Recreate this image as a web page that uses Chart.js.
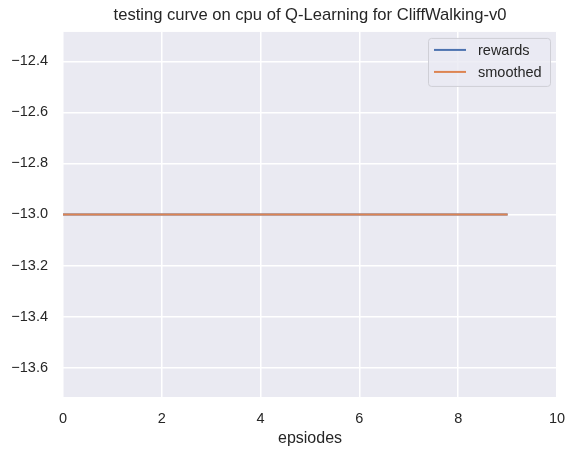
<!DOCTYPE html>
<html>
<head>
<meta charset="utf-8">
<script src="https://cdn.jsdelivr.net/npm/chart.js@4"></script>
<style>
  html, body { margin: 0; padding: 0; background: #fff; }
  #box { width: 576px; height: 457px; }
</style>
</head>
<body>
<div id="box"><canvas id="myChart"></canvas></div>
<script>
// data
var episodes = [0, 1, 2, 3, 4, 5, 6, 7, 8, 9];
var rewards = [-13, -13, -13, -13, -13, -13, -13, -13, -13, -13];
var smoothed = [-13, -13, -13, -13, -13, -13, -13, -13, -13, -13];
var yTicks = [-13.6, -13.4, -13.2, -13.0, -12.8, -12.6, -12.4];
var xTicks = [0, 2, 4, 6, 8, 10];

var font = "'Liberation Sans', Arial, sans-serif";
var textColor = '#262626';

function toPoints(xs, ys) {
    var pts = [];
    for (var i = 0; i < xs.length; i++) {
        pts.push({ x: xs[i], y: ys[i] });
    }
    return pts;
}

// seaborn-ish grey background behind the plot
var plotBackground = {
    id: 'plotBackground',
    beforeDraw: function (chart) {
        var a = chart.chartArea;
        var ctx = chart.ctx;
        ctx.save();
        ctx.fillStyle = '#EAEAF2';
        ctx.fillRect(a.left, a.top, a.right - a.left, a.bottom - a.top);
        ctx.restore();
    }
};

// legend box in the upper right corner, matplotlib style
var cornerLegend = {
    id: 'cornerLegend',
    afterDraw: function (chart) {
        var a = chart.chartArea;
        var ctx = chart.ctx;
        var sets = chart.data.datasets;
        var w = 122, h = 48;
        var x = a.right - 7 - w, y = a.top + 6;
        ctx.save();
        ctx.fillStyle = 'rgba(234,234,242,0.8)';
        ctx.strokeStyle = '#cfcfd6';
        ctx.lineWidth = 1;
        ctx.beginPath();
        ctx.roundRect(x + 0.5, y + 0.5, w, h, 3);
        ctx.fill();
        ctx.stroke();
        ctx.font = '14.5px ' + font;
        ctx.textBaseline = 'middle';
        for (var i = 0; i < sets.length; i++) {
            var ly = y + 12 + i * 22;
            ctx.strokeStyle = sets[i].borderColor;
            ctx.lineWidth = 2;
            ctx.beginPath();
            ctx.moveTo(x + 6, ly);
            ctx.lineTo(x + 38, ly);
            ctx.stroke();
            ctx.fillStyle = textColor;
            ctx.fillText(sets[i].label, x + 50, ly + 1);
        }
        ctx.restore();
    }
};

var ctx = document.getElementById('myChart').getContext('2d');
var myLineChart = new Chart(ctx, {
    type: 'line',
    data: {
        datasets: [{
            label: 'rewards',
            borderColor: '#4C72B0',
            backgroundColor: '#4C72B0',
            borderWidth: 2,
            pointRadius: 0,
            order: 1,
            data: toPoints(episodes, rewards)
        }, {
            label: 'smoothed',
            borderColor: '#DD8452',
            backgroundColor: '#DD8452',
            borderWidth: 2,
            pointRadius: 0,
            order: 0,
            data: toPoints(episodes, smoothed)
        }]
    },
    options: {
        responsive: true,
        maintainAspectRatio: false,
        animation: false,
        layout: {
            padding: { left: 0, right: 19, top: 0, bottom: 0 }
        },
        plugins: {
            legend: { display: false },
            tooltip: { enabled: false },
            title: {
                display: true,
                fullSize: false,
                text: 'testing curve on cpu of Q-Learning for CliffWalking-v0',
                color: textColor,
                font: { family: font, size: 16.6, weight: 'normal' },
                padding: { top: 5, bottom: 7 }
            }
        },
        scales: {
            x: {
                type: 'linear',
                min: 0,
                max: 10,
                afterBuildTicks: function (scale) {
                    scale.ticks = xTicks.map(function (v) { return { value: v }; });
                },
                afterFit: function (scale) {
                    scale.height = 60;
                    scale.paddingLeft = 0;
                    scale.paddingRight = 0;
                },
                border: { display: false },
                grid: { color: '#ffffff', lineWidth: 1.5, drawTicks: false },
                ticks: {
                    color: textColor,
                    padding: 13,
                    font: { family: font, size: 14.5 },
                    maxRotation: 0
                },
                title: {
                    display: true,
                    text: 'epsiodes',
                    color: textColor,
                    font: { family: font, size: 16 },
                    padding: { top: 2, bottom: 9 }
                }
            },
            y: {
                type: 'linear',
                min: -13.715,
                max: -12.285,
                afterBuildTicks: function (scale) {
                    scale.ticks = yTicks.map(function (v) { return { value: v }; });
                },
                afterFit: function (scale) { scale.width = 63; },
                border: { display: false },
                grid: { color: '#ffffff', lineWidth: 1.5, drawTicks: false },
                ticks: {
                    color: textColor,
                    padding: 15,
                    font: { family: font, size: 14.5 },
                    callback: function (v) {
                        return (v < 0 ? '\u2212' : '') + Math.abs(v).toFixed(1);
                    }
                }
            }
        }
    },
    plugins: [plotBackground, cornerLegend]
});
</script>
</body>
</html>
